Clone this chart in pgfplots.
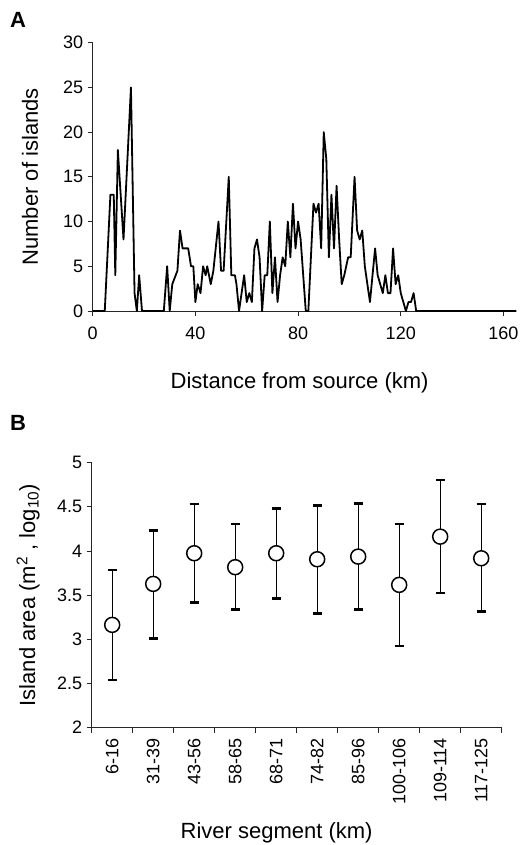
\documentclass[border=0pt]{standalone}
\usepackage{pgfplots}
\pgfplotsset{compat=1.18}
\usepackage{pgfplotstable}
\usepackage{fontspec}
\setmainfont{Liberation Sans}

\pgfplotstableread{
x y
0 0
4.7 0
6.9 13
8.2 13
8.8 4
9.8 18
12.0 8
14.9 25
16.3 2
17.2 0
18.1 4
19.2 0
27.7 0
29 5
30 0
31 3
33 4.5
34 9
35 7
37.2 7
38.3 5
39.2 5
40 1
40.9 3
42 2
43 5
44 4
44.6 5
46 3
47 4.5
49 10
50 4.5
51 4.5
53 15
54 4
55.4 4
56 3
57 0
59 4
60 1
61 2
62 1
63 7
64 8
65 6
66 0
67 4
68 4
69 10
70 2
71 6
72 1
73 4
74 6
75 5
76 10
77 6
78 12
79 7
80 10
81 8
83 0
84 0
86 12
87 11
88 12
89 7
90 20
91 17
92 6
93 13
94 7
95 14
96 8
97 3
98 4
99.5 6
100.5 6
102 15
103 9
104 8
105 9
106 5
108 1
110 7
111 4
113 2
114 4
115 2
116 2
117 7
118 3
119 4
120 2
122 0
123 1
124 1
125 2
126 0
165 0
}\islands

\pgfplotstableread{
x y ep em
1 3.164 0.622 0.624
2 3.628 0.606 0.615
3 3.975 0.558 0.558
4 3.817 0.490 0.477
5 3.975 0.505 0.509
6 3.907 0.611 0.611
7 3.937 0.603 0.597
8 3.617 0.690 0.691
9 4.163 0.641 0.640
10 3.918 0.615 0.604
}\areas

\begin{document}
\begin{tikzpicture}[x=1pt,y=1pt]
\useasboundingbox (0,0) rectangle (521,845);
\node[font=\fontsize{22}{24}\selectfont\bfseries] at (18,825.5) {A};
\node[font=\fontsize{22}{24}\selectfont\bfseries] at (18,422) {B};

\begin{axis}[
  at={(92.7pt,534pt)}, anchor=south west,
  scale only axis, width=422.3pt, height=268.3pt,
  xmin=0, xmax=164.5, ymin=0, ymax=30,
  axis x line*=bottom, axis y line*=left,
  axis line style={-, black!85, line width=0.8pt},
  xtick={0,40,...,160}, ytick={0,5,...,30},
  tick align=outside, major tick length=5pt,
  tick style={black!85, line width=0.8pt},
  ticklabel style={font=\fontsize{18}{20}\selectfont},
  xticklabel style={yshift=-7pt},
  yticklabel style={xshift=-1pt},
  /pgf/number format/assume math mode=true,
  xlabel={Distance from source (km)},
  ylabel={Number of islands},
  label style={font=\fontsize{22}{24}\selectfont},
  xlabel style={at={(axis description cs:0.49,-0.268)}, anchor=center},
  ylabel style={at={(axis description cs:-0.1485,0.5)}, anchor=center},
  clip=false,
]
\addplot[black, line width=1.8pt, line join=round] table[x=x,y=y] {\islands};
\end{axis}

\begin{axis}[
  at={(91.7pt,117.3pt)}, anchor=south west,
  scale only axis, width=410pt, height=265pt,
  xmin=0.5, xmax=10.5, ymin=2, ymax=5,
  axis x line*=bottom, axis y line*=left,
  axis line style={-, black!85, line width=0.8pt},
  xtick={1,...,10},
  xticklabels={6-16,31-39,43-56,58-65,68-71,74-82,85-96,100-106,109-114,117-125},
  minor xtick={0.5,1.5,...,10.5},
  major x tick style={draw=none},
  ytick={2,2.5,...,5},
  tick align=outside, major tick length=5pt, minor tick length=5pt,
  tick style={black!85, line width=0.8pt},
  ticklabel style={font=\fontsize{18}{20}\selectfont},
  xticklabel style={rotate=90, anchor=east, xshift=-2pt},
  yticklabel style={xshift=-1pt},
  /pgf/number format/assume math mode=true,
  xlabel={River segment (km)},
  ylabel={Island area (m\textsuperscript{2} , log\textsubscript{10})},
  label style={font=\fontsize{22}{24}\selectfont},
  xlabel style={at={(axis description cs:0.451,-0.397)}, anchor=center},
  ylabel style={at={(axis description cs:-0.155,0.5)}, anchor=center},
  clip=false,
]
\addplot[black, only marks, mark=*, mark size=7.5pt,
  mark options={line width=1.5pt, fill=white, draw=black},
  error bars/.cd, y dir=both, y explicit,
  error bar style={line width=0.9pt, black},
  error mark options={rotate=90, mark size=4.5pt, line width=2.6pt, black}]
  table[x=x, y=y, y error plus=ep, y error minus=em] {\areas};
\end{axis}
\end{tikzpicture}
\end{document}
